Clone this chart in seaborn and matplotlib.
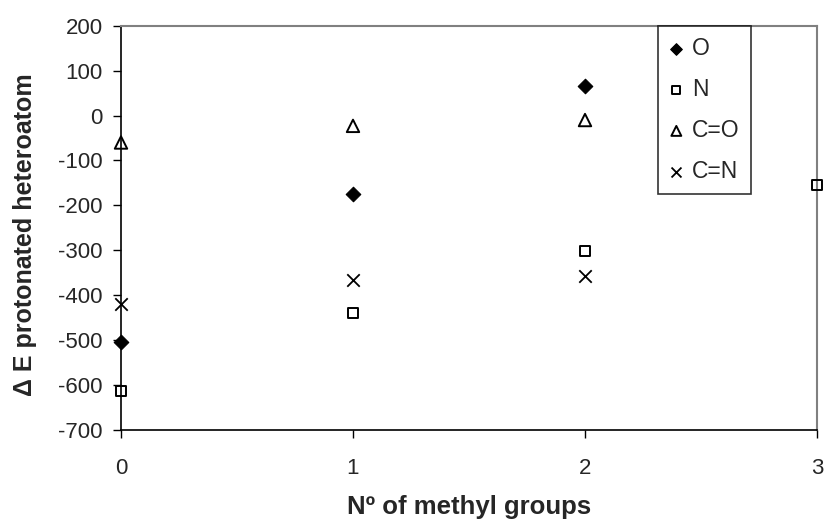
import matplotlib
matplotlib.use("Agg")
import matplotlib.pyplot as plt
import seaborn as sns
import pandas as pd

sns.set_style("white")
plt.rcParams['font.family'] = ['Liberation Sans', 'DejaVu Sans']
plt.rcParams['axes.unicode_minus'] = False

methyl = [0, 1, 2, 3]
o_vals = [-505, -175, 66, None]
n_vals = [-613, -439, -301, -155]
co_vals = [-60, -23, -10, None]
cn_vals = [-420, -366, -357, None]

series_names = ["O", "N", "C=O", "C=N"]
series_vals = [o_vals, n_vals, co_vals, cn_vals]

rows = []
for name, vals in zip(series_names, series_vals):
    for x, v in zip(methyl, vals):
        if v is not None:
            rows.append({"methyl": x, "dE": v, "series": name})
df = pd.DataFrame(rows)

fig = plt.figure(figsize=(8.29, 5.26), dpi=100)
ax = fig.add_axes([121/829, 1 - 430/526, (817-121)/829, (430-25.7)/526])

styles = {
    "O": dict(marker="D", s=55, facecolor="black", edgecolor="black", linewidth=0.8),
    "N": dict(marker="s", s=55, facecolor="none", edgecolor="black", linewidth=1.4),
    "C=O": dict(marker="^", s=80, facecolor="none", edgecolor="black", linewidth=1.4),
    "C=N": dict(marker="x", s=80, color="black", linewidth=1.3),
}
for name in series_names:
    sub = df[df["series"] == name]
    sns.scatterplot(data=sub, x="methyl", y="dE", ax=ax, label=name,
                    clip_on=False, zorder=5, **styles[name])

ax.set_xlim(0, 3)
ax.set_ylim(-700, 200)
ax.set_xticks([0, 1, 2, 3])
ax.set_yticks(range(-700, 201, 100))
ax.tick_params(axis="both", direction="out", length=6, width=1, color="black",
               labelsize=16, pad=7, left=True, bottom=True)
ax.tick_params(axis="x", pad=14)

for side in ["left", "bottom"]:
    ax.spines[side].set_color("black")
    ax.spines[side].set_linewidth(1.2)
for side in ["top", "right"]:
    ax.spines[side].set_color("#808080")
    ax.spines[side].set_linewidth(1.5)

ax.set_xlabel("Nº of methyl groups", fontsize=18.5, fontweight="bold", labelpad=12)
ax.set_ylabel("Δ E protonated heteroatom", fontsize=18, fontweight="bold")
ax.yaxis.set_label_coords(-0.121, 0.482)

leg = ax.legend(loc="upper left", bbox_to_anchor=((658-121)/(817-121), 1.0),
                frameon=True, fancybox=False, fontsize=16.5, handlelength=0.6,
                handletextpad=0.4, labelspacing=0.78, borderpad=0.5,
                markerscale=0.8, borderaxespad=0)
leg.get_frame().set_edgecolor("black")
leg.get_frame().set_linewidth(1.2)
leg.set_zorder(10)

fig.savefig("out.png", dpi=100)
